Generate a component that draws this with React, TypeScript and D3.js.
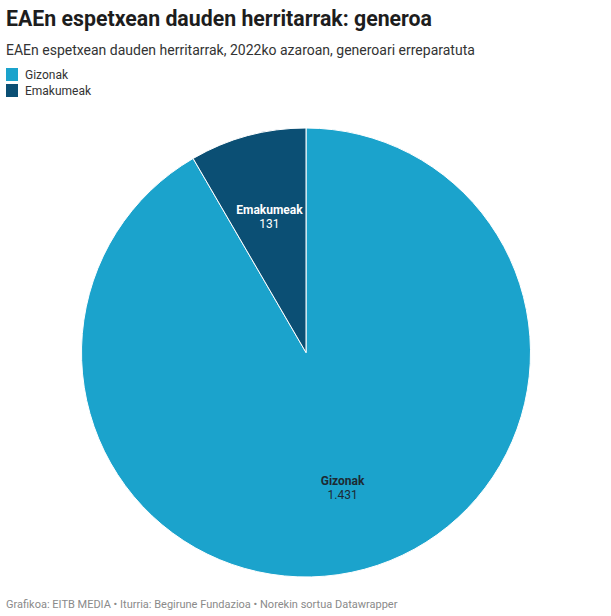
import React from "react";
import * as d3 from "d3";

const categories = ["Gizonak", "Emakumeak"];
const values = [1431, 131];
const valueLabels = ["1.431", "131"];
const colors = ["#1ba3cc", "#0b4f74"];
const labelColors = ["#1d2a33", "#ffffff"];

const W = 611;
const H = 616;

export default function App() {
  const cx = 306;
  const cy = 352.5;
  const r = 224.5;
  const pie = d3.pie<number>().sort(null).value((d) => d);
  const arcs = pie(values);
  const arc = d3.arc<d3.PieArcDatum<number>>().innerRadius(0).outerRadius(r);
  const labelArc = d3.arc<d3.PieArcDatum<number>>().innerRadius(r * 0.625).outerRadius(r * 0.625);
  const font = "Roboto, sans-serif";
  return (
    <svg width={W} height={H} style={{ position: "absolute", left: 0, top: 0, background: "#fff" }} fontFamily={font}>
      <text x={6} y={26} fontSize={21.3} fontWeight={700} fill="#1d1d1d">EAEn espetxean dauden herritarrak: generoa</text>
      <text x={6} y={55} fontSize={14} fill="#333">EAEn espetxean dauden herritarrak, 2022ko azaroan, generoari erreparatuta</text>
      {categories.map((c, i) => (
        <g key={c} transform={`translate(6,${68 + i * 16})`}>
          <rect width={12} height={13} fill={colors[i]} />
          <text x={19} y={10.5} fontSize={12} fill="#333">{c}</text>
        </g>
      ))}
      <g transform={`translate(${cx},${cy})`}>
        {arcs.map((a, i) => (
          <path key={i} d={arc(a) || ""} fill={colors[i]} stroke="#fff" strokeWidth={1} />
        ))}
        {arcs.map((a, i) => {
          const [x, y] = labelArc.centroid(a);
          return (
            <g key={"l" + i} transform={`translate(${x},${y})`} textAnchor="middle" fill={labelColors[i]}>
              <text y={-3} fontSize={12} fontWeight={700}>{categories[i]}</text>
              <text y={11} fontSize={12}>{valueLabels[i]}</text>
            </g>
          );
        })}
      </g>
      <text x={6} y={608} fontSize={11} fill="#8a8a8a">Grafikoa: EITB MEDIA • Iturria: Begirune Fundazioa • Norekin sortua Datawrapper</text>
    </svg>
  );
}
